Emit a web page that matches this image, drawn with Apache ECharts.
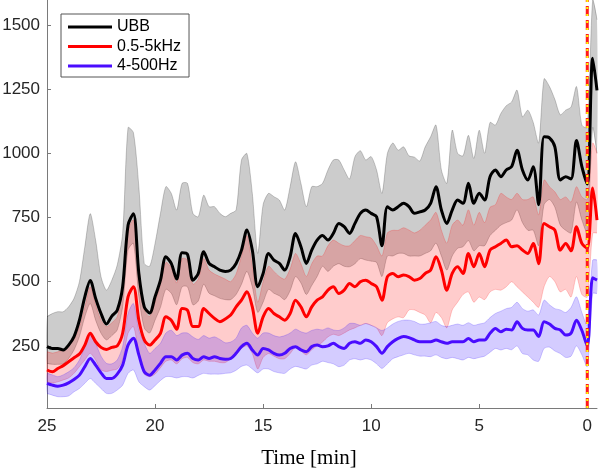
<!DOCTYPE html>
<html><head><meta charset="utf-8">
<script src="https://cdn.jsdelivr.net/npm/echarts@6/dist/echarts.min.js"></script>
<style>html,body{margin:0;padding:0;background:#fff}#c{width:600px;height:471px}</style>
</head><body><div id="c"></div>
<script>
// minutes before event (x axis, reversed)
const times = [
25,24.75,24.5,24.25,24,23.75,23.5,23.25,23,22.75,
22.5,22.25,22,21.75,21.5,21.25,21,20.75,20.5,20.25,
20,19.75,19.5,19.25,19,18.75,18.5,18.25,18,17.75,
17.5,17.25,17,16.75,16.5,16.25,16,15.75,15.5,15.25,
15,14.75,14.5,14.25,14,13.75,13.5,13.25,13,12.75,
12.5,12.25,12,11.75,11.5,11.25,11,10.75,10.5,10.25,
10,9.75,9.5,9.25,9,8.75,8.5,8.25,8,7.75,
7.5,7.25,7,6.75,6.5,6.25,6,5.75,5.5,5.25,
5,4.75,4.5,4.25,4,3.75,3.5,3.25,3,2.75,
2.5,2.25,2,1.75,1.5,1.25,1,0.75,0.5,0.25,
0,-0.25,-0.45];

// UBB
const ubbMean = [
247,240,240,234,253,286,350,441,505,435,
376,335,366,389,480,720,765,532,402,378,
441,506,597,571,510,613,607,506,532,617,
571,558,545,540,545,571,623,701,623,480,
532,610,584,571,545,597,688,636,571,623,
662,680,662,688,727,714,688,727,766,779,
766,753,640,792,779,792,805,792,766,772,
779,805,870,779,727,779,818,805,883,805,
844,818,909,935,909,935,948,1012,935,896,
948,800,1064,1060,1025,896,909,900,1050,948,
880,1370,1245];
const ubbUpper = [
363,376,383,383,402,435,500,636,765,662,
519,467,506,565,688,1100,1080,870,571,560,
649,766,870,844,779,883,883,766,753,837,
792,792,766,753,766,779,974,999,844,610,
800,844,831,818,779,870,967,883,792,870,
870,883,935,974,974,935,900,987,1010,974,
987,935,844,999,1040,1012,1025,990,985,970,
1025,1064,1110,935,883,1090,1000,990,1070,980,
1090,1000,1120,1110,1155,1185,1200,1246,1142,1168,
1120,1040,1290,1260,1210,1150,1168,1180,1260,1110,
1100,1597,1520];
const ubbLower = [
182,178,178,180,201,234,286,363,415,350,
299,273,290,312,402,623,649,441,320,300,
350,400,470,455,410,480,480,410,425,490,
455,445,435,430,430,450,490,540,480,380,
420,470,455,445,430,465,520,495,450,485,
520,560,540,560,570,560,558,570,590,584,
580,575,520,600,600,610,610,600,600,600,
610,620,650,600,545,600,630,636,660,620,
640,640,680,700,720,730,740,780,730,700,
700,640,800,820,790,720,700,690,810,740,
690,1100,1000];

// 0.5-5kHz
const khzMean = [
156,149,162,173,188,204,218,253,299,266,
244,236,244,250,299,441,480,350,273,253,
273,299,363,350,315,396,389,325,325,396,
376,357,344,355,370,402,428,461,402,299,
363,396,376,363,350,376,428,402,363,402,
428,441,467,480,454,467,493,480,500,506,
493,480,428,519,532,519,526,520,506,512,
532,545,597,545,467,532,558,532,610,558,
610,558,623,636,649,662,636,640,623,610,
649,570,727,714,701,623,649,620,714,649,
630,865,740];
const khzUpper = [
227,222,227,234,250,275,325,402,480,410,
350,325,340,363,470,700,740,560,390,365,
420,490,575,555,495,590,585,490,510,590,
545,530,520,510,500,530,600,680,560,420,
500,560,540,520,510,550,610,570,520,570,
600,600,640,662,650,640,640,660,680,675,
670,640,600,690,700,700,710,701,690,700,
720,740,770,700,650,720,740,720,780,720,
770,730,790,800,844,830,820,844,820,820,
830,760,896,870,850,820,830,810,870,830,
820,1040,1000];
const khzLower = [
110,105,110,117,125,143,169,195,221,195,
156,150,155,160,195,299,325,221,140,130,
140,165,190,195,180,200,205,185,180,195,
190,190,185,185,200,215,240,250,220,160,
205,220,210,200,200,220,245,230,215,235,
250,265,285,295,290,300,312,320,330,337,
330,320,290,340,355,363,360,390,390,380,
370,340,380,360,320,390,420,450,460,420,
440,430,460,470,467,480,500,480,460,440,
420,400,480,520,500,460,470,440,520,450,
440,688,690];

// 4-500Hz
const hzMean = [
104,97,93,97,106,119,136,169,201,175,
145,123,123,140,175,253,280,215,149,136,
156,182,208,208,195,214,221,201,195,208,
201,208,201,198,201,221,247,260,234,214,
240,234,221,214,221,240,247,234,227,247,
253,247,250,260,247,240,260,266,260,273,
266,247,221,247,266,279,286,282,273,266,
266,266,273,266,260,266,266,266,279,266,
273,273,299,318,305,315,312,344,318,312,
312,286,344,335,318,312,292,300,350,310,
250,515,506];
const hzUpper = [
143,137,130,137,149,165,195,247,299,260,
210,182,180,195,247,376,415,311,260,221,
240,260,300,311,290,300,300,285,275,290,
280,285,275,262,265,280,320,330,300,280,
300,300,290,285,290,300,315,305,300,310,
315,312,320,312,310,320,337,337,330,337,
330,320,310,320,335,345,350,350,345,335,
335,340,345,330,325,330,335,330,340,330,
335,340,360,376,385,395,400,420,395,385,
390,370,428,410,395,390,380,400,441,380,
330,584,584];
const hzLower = [
65,58,52,52,55,71,84,104,123,104,
84,65,65,78,97,143,156,110,91,78,
95,115,130,130,125,130,130,125,135,143,
140,140,140,143,145,155,170,175,160,145,
160,160,150,145,143,160,170,165,160,175,
180,190,185,180,169,175,195,200,195,200,
195,180,162,180,200,208,215,221,215,210,
210,208,215,205,200,205,200,195,205,200,
205,210,225,240,234,240,235,250,220,215,
195,190,240,245,230,220,205,210,250,215,
169,454,454];

const xTickValues = [0,5,10,15,20,25];
const yTickValues = [250,500,750,1000,1250,1500];
const eventTime = [0];
const seriesNames = ['UBB','0.5-5kHz','4-500Hz'];

const Y_MIN = 8, Y_MAX = 1597;

function pairs(arr){ return times.map((t,i)=>[t, arr[i]]); }
function band(upper, lower, fill, stroke){
  return {
    type:'custom', silent:true, z:1, animation:false,
    data:[[times[0], upper[0]]],
    renderItem(params, api){
      const top=[], bot=[];
      for(let i=0;i<times.length;i++) top.push(api.coord([times[i], upper[i]]));
      for(let i=times.length-1;i>=0;i--) bot.push(api.coord([times[i], lower[i]]));
      return {type:'group', children:[
        {type:'polygon', shape:{points:top.concat(bot), smooth:0.25}, style:{fill:fill, stroke:null}},
        {type:'polyline', shape:{points:top, smooth:0.25}, style:{fill:null, stroke:stroke, lineWidth:1}},
        {type:'polyline', shape:{points:bot, smooth:0.25}, style:{fill:null, stroke:stroke, lineWidth:1}}
      ]};
    }
  };
}
function meanLine(name, arr, color){
  return {type:'line', name:name, data:pairs(arr), showSymbol:false, symbol:'none', smooth:0.3,
    lineStyle:{color:color, width:3}, itemStyle:{color:color}, z:3, animation:false};
}
const labelFont = '"Liberation Sans", Arial, sans-serif';

const chart = echarts.init(document.getElementById('c'), null, {renderer:'canvas'});
chart.setOption({
  animation:false,
  grid:{left:47, right:3, top:0, bottom:63, containLabel:false, outerBoundsMode:'none'},
  xAxis:{type:'value', inverse:true, min:-0.45, max:25,
    axisLine:{show:true, onZero:false, lineStyle:{color:'#7a7a7a', width:1}},
    axisTick:{show:true, inside:true, length:4, customValues:xTickValues, lineStyle:{color:'#7a7a7a'}},
    axisLabel:{customValues:xTickValues, fontSize:17, color:'#262626', margin:10, fontFamily:labelFont,
      formatter:(v)=>String(v)},
    splitLine:{show:false}},
  yAxis:{type:'value', min:Y_MIN, max:Y_MAX,
    axisLine:{show:true, onZero:false, lineStyle:{color:'#7a7a7a', width:1}},
    axisTick:{show:true, inside:true, length:4, customValues:yTickValues, lineStyle:{color:'#7a7a7a'}},
    axisLabel:{customValues:yTickValues, fontSize:17, color:'#262626', margin:7, fontFamily:labelFont,
      formatter:(v)=>String(v)},
    splitLine:{show:false}},
  legend:{data:seriesNames, orient:'vertical', left:61, top:14, icon:'rect',
    itemWidth:44, itemHeight:3, itemGap:3.5, padding:[5,8,3,7],
    backgroundColor:'#fff', borderColor:'#555', borderWidth:1, z:10,
    textStyle:{fontSize:16, lineHeight:16, color:'#000', fontFamily:labelFont}},
  graphic:[{type:'text', x:309, y:458, z:10,
    style:{text:'Time [min]', font:'21px "Liberation Serif", "Times New Roman", serif', fill:'#000', textAlign:'center', textVerticalAlign:'middle'}}],
  series:[
    band(ubbUpper, ubbLower, 'rgba(0,0,0,0.2)', 'rgba(0,0,0,0.2)'),
    band(khzUpper, khzLower, 'rgba(255,0,0,0.2)', 'rgba(255,0,0,0.2)'),
    band(hzUpper, hzLower, 'rgba(40,0,255,0.2)', 'rgba(40,0,255,0.2)'),
    meanLine(seriesNames[0], ubbMean, '#000000'),
    meanLine(seriesNames[1], khzMean, '#ff0000'),
    meanLine(seriesNames[2], hzMean, '#4a0cff'),
    {type:'line', data:[[eventTime[0], Y_MIN],[eventTime[0], Y_MAX]], showSymbol:false, symbol:'none', silent:true,
      lineStyle:{color:'#ff1a1a', width:3, type:[10,4]}, z:4, animation:false},
    {type:'line', data:[[eventTime[0], Y_MIN],[eventTime[0], Y_MAX]], showSymbol:false, symbol:'none', silent:true,
      lineStyle:{color:'#ffff00', width:2, type:[2,5]}, z:5, animation:false}
  ]
});
</script></body></html>
